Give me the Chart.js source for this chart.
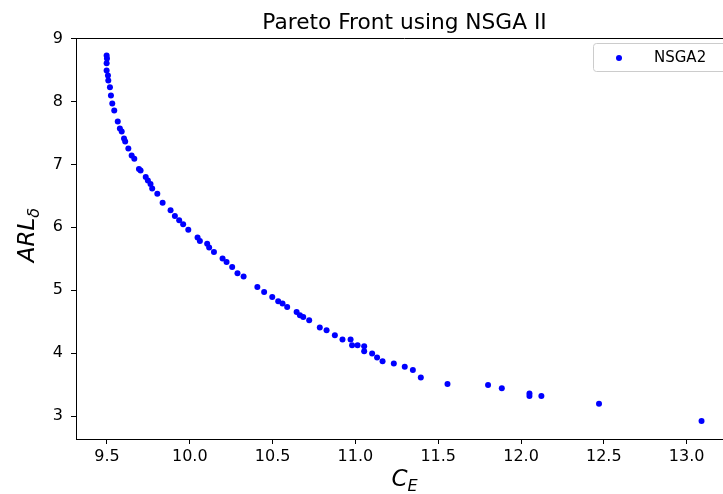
<!DOCTYPE html>
<html>
<head>
<meta charset="utf-8">
<script src="https://cdn.jsdelivr.net/npm/chart.js@4.4.0/dist/chart.umd.min.js"></script>
<style>
  html, body { margin: 0; padding: 0; background: #fff; overflow: hidden; }
  #wrap { width: 745px; height: 494px; position: relative; }
</style>
</head>
<body>
<div id="wrap"><canvas id="chart"></canvas></div>
<script>
// Pareto front points (C_E, ARL_delta)
const ceValues = [
  9.498, 9.500, 9.498, 9.498, 9.506, 9.508, 9.518, 9.524, 9.532, 9.544,
  9.565, 9.578, 9.589, 9.603, 9.610, 9.629, 9.649, 9.665, 9.693, 9.703,
  9.734, 9.747, 9.763, 9.773, 9.804, 9.836, 9.884, 9.910, 9.936, 9.960,
  9.991, 10.047, 10.061, 10.105, 10.117, 10.146, 10.198, 10.222, 10.256, 10.288,
  10.325, 10.408, 10.449, 10.498, 10.534, 10.560, 10.588, 10.645, 10.665, 10.685,
  10.721, 10.785, 10.826, 10.876, 10.922, 10.971, 10.980, 11.013, 11.053, 11.053,
  11.101, 11.131, 11.164, 11.232, 11.298, 11.347, 11.395, 11.556, 11.801, 11.884,
  12.051, 12.051, 12.123, 12.471, 13.090
];
const arlValues = [
  8.730, 8.683, 8.608, 8.492, 8.413, 8.333, 8.227, 8.095, 7.968, 7.857,
  7.683, 7.571, 7.524, 7.413, 7.365, 7.254, 7.143, 7.090, 6.929, 6.905,
  6.802, 6.746, 6.690, 6.619, 6.535, 6.392, 6.270, 6.179, 6.111, 6.048,
  5.963, 5.837, 5.783, 5.741, 5.678, 5.608, 5.503, 5.449, 5.370, 5.270,
  5.217, 5.052, 4.973, 4.894, 4.825, 4.789, 4.735, 4.656, 4.603, 4.576,
  4.524, 4.408, 4.365, 4.286, 4.217, 4.217, 4.127, 4.127, 4.111, 4.032,
  3.995, 3.932, 3.873, 3.837, 3.783, 3.730, 3.614, 3.508, 3.492, 3.440,
  3.360, 3.317, 3.317, 3.195, 2.921
];
const xTicks = [9.5, 10.0, 10.5, 11.0, 11.5, 12.0, 12.5, 13.0];
const yTicks = [3, 4, 5, 6, 7, 8, 9];

const seriesName = 'NSGA2';
const chartTitle = 'Pareto Front using NSGA II';
const FONT = "'DejaVu Sans', sans-serif";

// title over the plot area, axis titles with subscripts, legend box, top/right spines
const extras = {
  id: 'extras',
  afterDraw(chart) {
    const ctx = chart.ctx;
    const a = chart.chartArea;
    ctx.save();
    ctx.strokeStyle = '#000';
    ctx.lineWidth = 1;
    ctx.beginPath();
    ctx.moveTo(a.left, a.top + 0.5);
    ctx.lineTo(a.right, a.top + 0.5);
    ctx.lineTo(a.right, a.bottom);
    ctx.stroke();

    ctx.fillStyle = '#000';
    ctx.textAlign = 'center';
    ctx.textBaseline = 'alphabetic';
    ctx.font = "21.7px " + FONT;
    ctx.fillText(chartTitle, (a.left + a.right) / 2, 29);
    ctx.textAlign = 'left';

    // x title: C_E
    ctx.font = "oblique 23px " + FONT;
    const cw = ctx.measureText('C').width;
    ctx.font = "oblique 16px " + FONT;
    const ew = ctx.measureText('E').width;
    let x0 = (a.left + a.right) / 2 - (cw + ew) / 2;
    ctx.font = "oblique 23px " + FONT;
    ctx.fillText('C', x0, 486);
    ctx.font = "oblique 16px " + FONT;
    ctx.fillText('E', x0 + cw, 491);

    // y title: ARL_delta (rotated)
    ctx.translate(34, 235);
    ctx.rotate(-Math.PI / 2);
    ctx.font = "oblique 23px " + FONT;
    const aw = ctx.measureText('ARL').width;
    ctx.font = "oblique 16px " + FONT;
    const dw = ctx.measureText('δ').width;
    x0 = -(aw + dw) / 2;
    ctx.font = "oblique 23px " + FONT;
    ctx.fillText('ARL', x0, 0);
    ctx.font = "oblique 16px " + FONT;
    ctx.fillText('δ', x0 + aw, 5);
    ctx.restore();

    // legend
    ctx.save();
    const lx = 593.5, ly = 43.5, lw = 160, lh = 28;
    ctx.fillStyle = 'rgba(255,255,255,0.8)';
    ctx.strokeStyle = '#cccccc';
    ctx.lineWidth = 1;
    ctx.beginPath();
    ctx.roundRect(lx, ly, lw, lh, 3);
    ctx.fill();
    ctx.stroke();
    ctx.fillStyle = '#0000ff';
    ctx.beginPath();
    ctx.arc(619, 58, 3, 0, Math.PI * 2);
    ctx.fill();
    ctx.fillStyle = '#000';
    ctx.font = "15px " + FONT;
    ctx.textBaseline = 'middle';
    ctx.fillText(seriesName, 654, 58);
    ctx.restore();
  }
};

const points = ceValues.map((v, i) => ({ x: v, y: arlValues[i] }));

new Chart(document.getElementById('chart'), {
  type: 'scatter',
  data: {
    datasets: [{
      label: seriesName,
      data: points,
      backgroundColor: '#0000ff',
      borderWidth: 0,
      pointRadius: 3,
      pointHoverRadius: 3
    }]
  },
  options: {
    responsive: true,
    maintainAspectRatio: false,
    animation: false,
    events: [],
    layout: { padding: { left: 0, right: 12, top: 38, bottom: 0 } },
    plugins: {
      legend: { display: false },
      tooltip: { enabled: false },
      title: { display: false }
    },
    scales: {
      x: {
        type: 'linear',
        min: 9.313,
        max: 13.28,
        afterBuildTicks: s => { s.ticks = xTicks.map(v => ({ value: v })); },
        afterFit: s => { s.height = 55; },
        border: { display: true, color: '#000', width: 1 },
        grid: { drawOnChartArea: false, drawTicks: true, tickLength: 5, color: '#000' },
        ticks: {
          color: '#000',
          padding: 3,
          maxRotation: 0,
          font: { family: FONT, size: 16 },
          callback: v => Number(v).toFixed(1)
        }
      },
      y: {
        type: 'linear',
        min: 2.635,
        max: 9.01,
        afterBuildTicks: s => { s.ticks = yTicks.map(v => ({ value: v })); },
        afterFit: s => { s.width = 76; },
        border: { display: true, color: '#000', width: 1 },
        grid: { drawOnChartArea: false, drawTicks: true, tickLength: 5, color: '#000' },
        ticks: {
          color: '#000',
          padding: 8,
          font: { family: FONT, size: 16 },
          callback: v => String(v)
        }
      }
    }
  },
  plugins: [extras]
});
</script>
</body>
</html>
